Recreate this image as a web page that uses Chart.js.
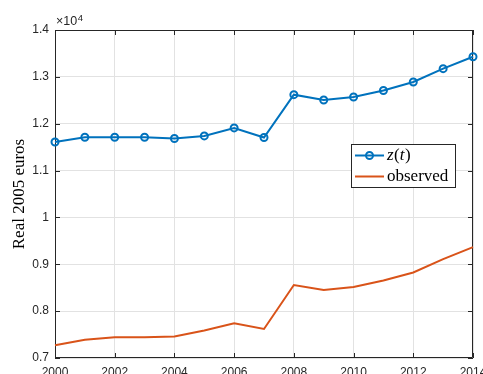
<!DOCTYPE html>
<html>
<head>
<meta charset="utf-8">
<script src="https://cdn.jsdelivr.net/npm/chart.js@4/dist/chart.umd.min.js"></script>
<style>
  html, body { margin:0; padding:0; background:#fff; }
  #wrap { width:483px; height:374px; }
</style>
</head>
<body>
<div id="wrap"><canvas id="chart" width="483" height="374"></canvas></div>
<script>
// years on the x axis
const years = [2000, 2001, 2002, 2003, 2004, 2005, 2006, 2007, 2008, 2009, 2010, 2011, 2012, 2013, 2014];
// model series z(t), real 2005 euros
const zValues = [11610, 11710, 11710, 11710, 11685, 11740, 11910, 11705, 12620, 12505, 12570, 12710, 12890, 13175, 13430];
// observed series, real 2005 euros
const observedValues = [7272, 7387, 7443, 7445, 7460, 7585, 7740, 7620, 8557, 8450, 8515, 8655, 8826, 9110, 9366];
const yTicks = [7000, 8000, 9000, 10000, 11000, 12000, 13000, 14000];
const xTicks = [2000, 2002, 2004, 2006, 2008, 2010, 2012, 2014];

const BLUE = "#0072BD";
const ORANGE = "#D95319";
const AXIS = "#262626";
const GRID = "#e2e2e2";
const SANS = "'Liberation Sans', Arial, Helvetica, sans-serif";
const SERIF = "'Liberation Serif', 'Times New Roman', serif";

const toPts = vals => vals.map((v,i)=> ({x: years[i], y: v}));

// box, inward ticks and the x10^4 exponent label
const boxPlugin = {
  id: "box",
  beforeDatasetsDraw(chart){
    const {ctx, chartArea:a, scales} = chart;
    ctx.save();
    ctx.strokeStyle = AXIS;
    ctx.lineWidth = 1;
    ctx.beginPath();
    ctx.rect(a.left+0.5, a.top+0.5, a.right-a.left-1, a.bottom-a.top-1);
    for(const t of xTicks){
      const x = Math.round(scales.x.getPixelForValue(t)) + 0.5;
      ctx.moveTo(x, a.bottom); ctx.lineTo(x, a.bottom-5);
      ctx.moveTo(x, a.top); ctx.lineTo(x, a.top+5);
    }
    for(const t of yTicks){
      const y = Math.round(scales.y.getPixelForValue(t)) + 0.5;
      ctx.moveTo(a.left, y); ctx.lineTo(a.left+5, y);
      ctx.moveTo(a.right, y); ctx.lineTo(a.right-5, y);
    }
    ctx.stroke();

    // exponent label above the y axis
    ctx.fillStyle = AXIS;
    ctx.textBaseline = "alphabetic";
    ctx.textAlign = "left";
    ctx.font = `12.5px ${SANS}`;
    ctx.fillText("\u00d710", a.left+1, 25);
    const w = ctx.measureText("\u00d710").width;
    ctx.font = `9.5px ${SANS}`;
    ctx.fillText("4", a.left+1+w+0.5, 20.5);
    ctx.restore();
  }
};

// legend box inside the axes
const legendPlugin = {
  id: "innerLegend",
  afterDraw(chart){
    const {ctx} = chart;
    const x0 = 351.5, y0 = 144.5, w = 104, h = 43;
    ctx.save();
    ctx.fillStyle = "#fff";
    ctx.fillRect(x0, y0, w, h);
    ctx.strokeStyle = AXIS;
    ctx.lineWidth = 1;
    ctx.strokeRect(x0, y0, w, h);

    const rows = [155.5, 176.5];
    chart.data.datasets.forEach((ds, i)=>{
      const y = rows[i];
      ctx.strokeStyle = ds.borderColor;
      ctx.lineWidth = 2;
      ctx.beginPath();
      ctx.moveTo(355, y); ctx.lineTo(384, y);
      ctx.stroke();
      if(ds.pointRadius > 0){
        ctx.beginPath();
        ctx.arc(369.5, y, ds.pointRadius, 0, Math.PI*2);
        ctx.stroke();
      }
      ctx.fillStyle = "#000";
      ctx.textBaseline = "middle";
      ctx.textAlign = "left";
      if(i === 0){
        // z(t) with italic letters
        let tx = 387;
        const parts = [["z", true], ["(", false], ["t", true], [")", false]];
        for(const [s, it] of parts){
          ctx.font = `${it ? "italic " : ""}17px ${SERIF}`;
          ctx.fillText(s, tx, y);
          tx += ctx.measureText(s).width + (it ? 0.5 : 0);
        }
      } else {
        ctx.font = `17px ${SERIF}`;
        ctx.fillText(ds.label, 387, y);
      }
    });
    ctx.restore();
  }
};

new Chart(document.getElementById("chart"), {
  type: "line",
  data: {
    datasets: [
      {
        label: "z(t)",
        data: toPts(zValues),
        borderColor: BLUE,
        borderWidth: 2,
        pointRadius: 3.5,
        pointBorderWidth: 2,
        pointBorderColor: BLUE,
        pointBackgroundColor: "rgba(0,0,0,0)",
        pointHoverRadius: 3.5,
        clip: false,
        tension: 0
      },
      {
        label: "observed",
        data: toPts(observedValues),
        borderColor: ORANGE,
        borderWidth: 2,
        pointRadius: 0,
        clip: false,
        tension: 0
      }
    ]
  },
  options: {
    responsive: false,
    animation: false,
    devicePixelRatio: 1,
    layout: { padding: { top: 30, right: 10, left: 0, bottom: 0 } },
    plugins: { legend: { display: false }, tooltip: { enabled: false } },
    scales: {
      x: {
        type: "linear",
        min: 2000, max: 2014,
        afterBuildTicks: s => { s.ticks = xTicks.map(v=>({value:v})); },
        afterFit: s => { s.height = 16; s.paddingLeft = 0; s.paddingRight = 0; },
        grid: { color: GRID, lineWidth: 1, drawTicks: false },
        border: { display: false },
        ticks: {
          color: AXIS, padding: 7,
          font: { family: SANS, size: 12 },
          maxRotation: 0, autoSkip: false,
          callback: v => String(v)
        }
      },
      y: {
        min: 7000, max: 14000,
        afterBuildTicks: s => { s.ticks = yTicks.map(v=>({value:v})); },
        afterFit: s => { s.width = 55; s.paddingTop = 0; s.paddingBottom = 0; },
        grid: { color: GRID, lineWidth: 1, drawTicks: false },
        border: { display: false },
        ticks: {
          color: AXIS, padding: 6,
          font: { family: SANS, size: 12 },
          callback: v => String(Math.round(v/100)/100)
        },
        title: {
          display: true,
          text: "Real 2005 euros",
          color: "#000",
          font: { family: SERIF, size: 17 },
          padding: { top: 9, bottom: 0 }
        }
      }
    }
  },
  plugins: [boxPlugin, legendPlugin]
});
</script>
</body>
</html>
